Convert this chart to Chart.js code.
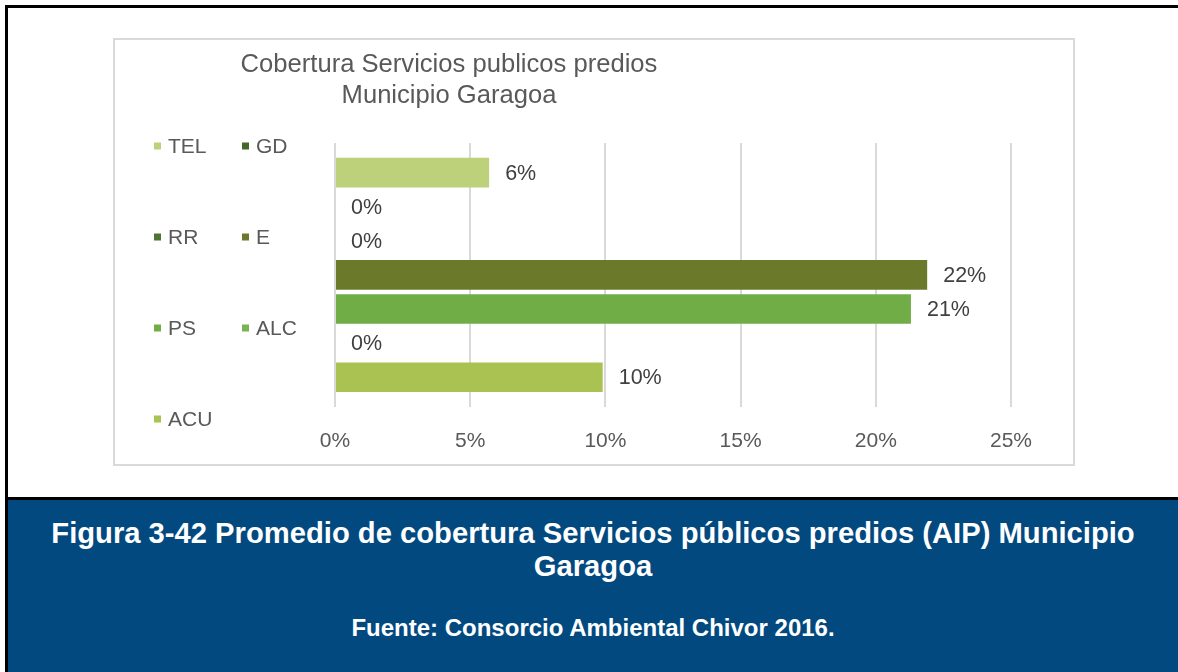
<!DOCTYPE html>
<html>
<head>
<meta charset="utf-8">
<script src="https://cdn.jsdelivr.net/npm/chart.js@4.4.1/dist/chart.umd.min.js"></script>
<style>
    html, body { margin: 0; padding: 0; background: #ffffff; }
    body { width: 1178px; height: 672px; position: relative; overflow: hidden; font-family: 'Liberation Sans', Arial, sans-serif; }
    .frame { position: absolute; left: 5px; top: 5px; right: 0; bottom: 0; border-top: 3px solid #000; border-left: 3px solid #000; }
    .chart-box { position: absolute; left: 113px; top: 38px; width: 962px; height: 428px; box-sizing: border-box; border: 2px solid #d9d9d9; background: #fff; }
    .chart-wrap { position: absolute; left: 0; top: 0; width: 958px; height: 436px; }
    .chart-title { position: absolute; left: 199px; top: 48px; width: 500px; text-align: center; color: #595959; font-size: 25.6px; line-height: 31px; }
    .caption { position: absolute; left: 8px; top: 497px; right: 0; bottom: 0; border-top: 3px solid #000; background: #02497f; color: #fff; text-align: center; font-weight: bold; }
    .caption .fig { margin-top: 17px; font-size: 29.2px; line-height: 33px; }
    .caption .src { margin-top: 31px; font-size: 24px; line-height: 28px; }
</style>
</head>
<body>
<div class="frame"></div>
<div class="chart-box">
    <div class="chart-wrap"><canvas id="coberturaChart"></canvas></div>
</div>
<div class="chart-title">Cobertura Servicios publicos predios<br>Municipio Garagoa</div>
<div class="caption">
    <div class="fig">Figura 3-42 Promedio de cobertura Servicios públicos predios (AIP) Municipio<br>Garagoa</div>
    <div class="src">Fuente: Consorcio Ambiental Chivor 2016.</div>
</div>

<script>
// Series (top to bottom in the plot)
const seriesNames = ['TEL', 'GD', 'RR', 'E', 'PS', 'ALC', 'ACU'];
const seriesValues = [5.7, 0, 0, 21.9, 21.3, 0, 9.9];
const seriesColors = ['#bdd07a', '#43682b', '#4e7333', '#6a7a2a', '#70ad47', '#7ab356', '#a9c251'];
const tickValues = [0, 5, 10, 15, 20, 25];

const FONT = "'Liberation Sans', Arial, sans-serif";

// Value labels at the end of each bar
const valueLabels = {
    id: 'valueLabels',
    afterDatasetsDraw(chart) {
        const ctx = chart.ctx;
        ctx.save();
        ctx.font = '21.5px ' + FONT;
        ctx.fillStyle = '#404040';
        ctx.textAlign = 'left';
        ctx.textBaseline = 'middle';
        chart.data.datasets.forEach((ds, i) => {
            const bar = chart.getDatasetMeta(i).data[0];
            ctx.fillText(Math.round(ds.data[0]) + '%', bar.x + 16, bar.y + 1);
        });
        ctx.restore();
    }
};

// Two-column legend on the left, like the original
const sideLegend = {
    id: 'sideLegend',
    afterDraw(chart) {
        const ctx = chart.ctx;
        const colX = [39, 127];
        const rowY = [106, 197, 288, 379];
        ctx.save();
        ctx.font = '21px ' + FONT;
        ctx.textAlign = 'left';
        ctx.textBaseline = 'middle';
        chart.data.datasets.forEach((ds, i) => {
            const x = colX[i % 2];
            const y = rowY[Math.floor(i / 2)];
            ctx.fillStyle = ds.backgroundColor;
            ctx.fillRect(x, y - 3.5, 7, 7);
            ctx.fillStyle = '#595959';
            ctx.fillText(ds.label, x + 14, y + 1);
        });
        ctx.restore();
    }
};

function initCoberturaChart() {
    const ctx = document.getElementById('coberturaChart').getContext('2d');

    new Chart(ctx, {
        type: 'bar',
        data: {
            labels: [''],
            datasets: seriesNames.map((name, i) => ({
                label: name,
                data: [seriesValues[i]],
                backgroundColor: seriesColors[i],
                borderColor: '#ffffff',
                borderWidth: 0,
                categoryPercentage: 0.905,
                barPercentage: 0.87
            }))
        },
        options: {
            indexAxis: 'y',
            responsive: true,
            maintainAspectRatio: false,
            animation: false,
            layout: {
                padding: { left: 220, top: 103, right: 62, bottom: 0 }
            },
            plugins: {
                legend: { display: false },
                title: { display: false },
                tooltip: { enabled: false }
            },
            scales: {
                x: {
                    min: tickValues[0],
                    max: tickValues[tickValues.length - 1],
                    afterBuildTicks: axis => {
                        axis.ticks = tickValues.map(v => ({ value: v }));
                    },
                    grid: {
                        color: '#d9d9d9',
                        lineWidth: 2,
                        drawTicks: false
                    },
                    border: { display: false },
                    ticks: {
                        color: '#595959',
                        padding: 22,
                        font: { family: FONT, size: 21 },
                        callback: value => value + '%'
                    }
                },
                y: {
                    display: false
                }
            }
        },
        plugins: [valueLabels, sideLegend]
    });
}

initCoberturaChart();
</script>
</body>
</html>
